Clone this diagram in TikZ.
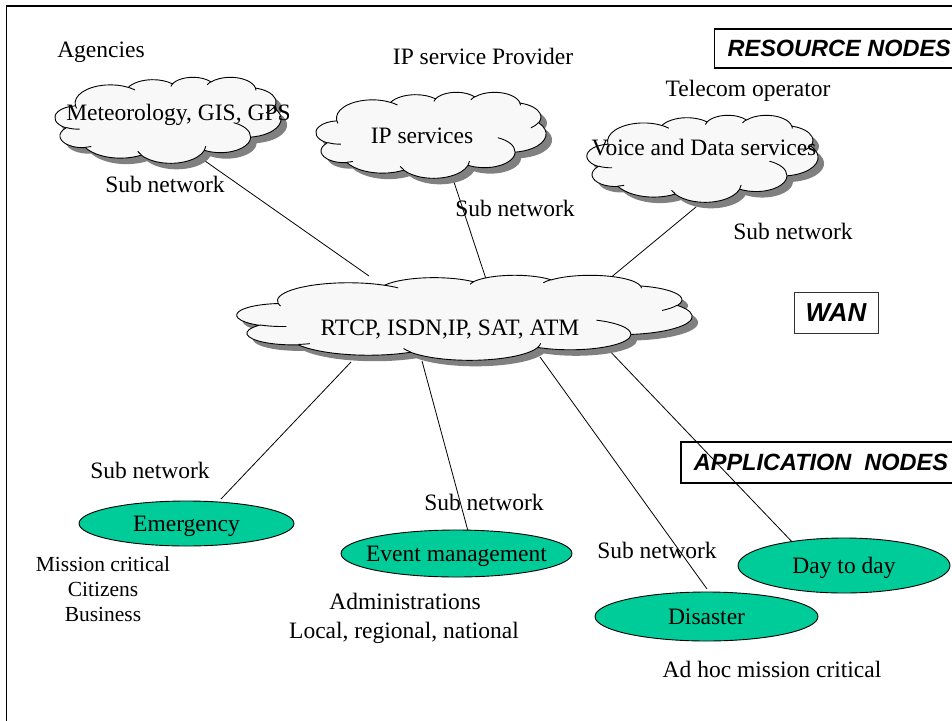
\documentclass[tikz,border=0pt]{standalone}
\usepackage{fontspec}
\setmainfont{Liberation Serif}
\newfontfamily\headfont{Liberation Sans}
\usetikzlibrary{shapes.geometric}

\definecolor{appgreen}{HTML}{00CC99}
\definecolor{cloudfill}{HTML}{F8F8F8}
\definecolor{cloudshade}{HTML}{808080}

% One puff of the cloud: radii and the visual start/sweep angles (degrees)
% are turned into a TikZ arc style with parametric angles.
\newcommand\cldprep[5]{%
  \pgfmathsetmacro\cldtmpa{atan2((#2)*sin(#4),(#3)*cos(#4))}%
  \pgfmathsetmacro\cldtmpb{atan2((#2)*sin((#4)+(#5)),(#3)*cos((#4)+(#5)))}%
  \pgfmathsetmacro\cldtmpc{(\cldtmpb)-(\cldtmpa)+360*((\cldtmpb)<(\cldtmpa))}%
  \edef\cldtmpd{\noexpand\tikzset{#1/.style={x radius=#2, y radius=#3,
      start angle=\cldtmpa, delta angle=\cldtmpc}}}%
  \cldtmpd
}
% outline puffs (units of 1000 in a 43.2 x 43.2 box, y downwards)
\cldprep{puffA}{6.753}{9.190}{-190.48748}{123.78053}
\cldprep{puffB}{5.333}{7.267}{-144.10238}{89.94523}
\cldprep{puffC}{4.365}{5.945}{-145.80792}{99.72302}
\cldprep{puffD}{4.857}{6.595}{-130.98607}{117.24173}
\cldprep{puffE}{5.333}{7.273}{-78.70888}{109.02692}
\cldprep{puffF}{6.775}{9.220}{-46.26725}{130.26900}
\cldprep{puffG}{5.785}{7.867}{0.62502}{114.03333}
\cldprep{puffH}{6.752}{9.215}{22.45160}{115.17255}
\cldprep{puffI}{7.720}{10.543}{66.24263}{75.71102}
\cldprep{puffJ}{4.360}{5.918}{-274.94208}{146.73557}
\cldprep{puffK}{4.345}{5.945}{-246.82850}{152.51885}
% inner curl strokes
\cldprep{curlA}{4.345}{5.945}{86.74200}{26.42950}
\cldprep{curlB}{4.360}{5.918}{73.61047}{11.44747}
\cldprep{curlC}{6.752}{9.215}{137.62415}{14.08110}
\cldprep{curlD}{6.752}{9.215}{6.45327}{15.99835}
\cldprep{curlE}{5.785}{7.867}{-70.29235}{70.91737}
\cldprep{curlF}{5.333}{7.273}{30.31803}{27.75150}
\cldprep{curlG}{4.857}{6.595}{-13.74433}{14.85890}
\cldprep{curlH}{4.857}{6.595}{-149.18145}{18.19537}
\cldprep{curlI}{4.365}{5.945}{-163.49427}{17.68635}
\cldprep{curlJ}{6.753}{9.190}{-66.70695}{12.31935}
\cldprep{curlK}{6.753}{9.190}{157.65435}{11.85817}

\tikzset{
  cloud outline/.style={insert path={(3.9,14.37)
      arc[puffA] arc[puffB] arc[puffC] arc[puffD] arc[puffE] arc[puffF]
      arc[puffG] arc[puffH] arc[puffI] arc[puffJ] arc[puffK] -- cycle}},
  cloud curls/.style={insert path={
      (4.693,26.177) arc[curlA] (6.928,34.899) arc[curlB]
      (16.478,39.09) arc[curlC] (28.827,34.751) arc[curlD]
      (34.129,22.954) arc[curlE] (41.798,15.354) arc[curlF]
      (38.324,5.426) arc[curlG] (29.078,3.952) arc[curlH]
      (22.141,4.72) arc[curlI] (14,5.192) arc[curlJ]
      (4.127,15.789) arc[curlK]}}
}

% cloud with drop shadow: left, top, width, height in px
\newcommand\netcloud[4]{%
  \begin{scope}[shift={(#1+6,#2+6)}, x=1cm, y=1cm,
      xscale=#3/1229.16, yscale=-#4/1229.16]
    \fill[cloudshade, cloud outline];
  \end{scope}
  \begin{scope}[shift={(#1,#2)}, x=1cm, y=1cm,
      xscale=#3/1229.16, yscale=-#4/1229.16]
    \filldraw[fill=cloudfill, draw=black, line width=0.9pt, cloud outline];
    \draw[line width=0.9pt, cloud curls];
  \end{scope}
}

\begin{document}
\begin{tikzpicture}[x=1pt, y=-1pt,
  txt/.style={font=\fontsize{23.5}{28}\selectfont, inner sep=0pt, anchor=base},
  smalltxt/.style={font=\fontsize{21.5}{26}\selectfont, inner sep=0pt, anchor=base},
  inlabel/.style={font=\fontsize{23.5}{28}\selectfont, inner sep=0pt,
    text height=16pt, text depth=0pt},
  headfnt/.style={font=\headfont\bfseries\itshape\fontsize{#1}{#1}\selectfont},
  headbox/.style={draw, headfnt=23.5, inner xsep=13pt, inner ysep=0pt, anchor=west},
  appnode/.style={ellipse, draw=black, line width=0.9pt, fill=appgreen, inner sep=0pt},
  link/.style={draw=black, line width=0.8pt}]

\useasboundingbox (0,0) rectangle (952,720);
\clip (0,0) rectangle (952,720);

% outer frame (its right and bottom sides lie past the page)
\draw[line width=1.8pt] (6.5,730) -- (6.5,6) -- (960,6);

% headings
\node[headbox, line width=1.2pt, minimum height=39pt] (resnodes) at (714,48.5) {RESOURCE NODES};
\node[headbox, line width=1.8pt, minimum height=41pt] (appnodes) at (680,462.5) {APPLICATION~~NODES};
\node[draw=black!80, line width=1pt, headfnt=26, inner sep=0pt,
      minimum width=84pt, minimum height=41pt] (wanbox) at (836,312.5) {WAN};

% connector end points
\coordinate (metS) at (205,161);
\coordinate (wanA) at (369,276);
\coordinate (ipS) at (454,182);
\coordinate (wanB) at (486,279);
\coordinate (vdS) at (696,207);
\coordinate (wanC) at (609,279);
\coordinate (wanD) at (351,362);
\coordinate (emT) at (221,499);
\coordinate (wanE) at (422,361);
\coordinate (evT) at (468,531);
\coordinate (wanF) at (540,357);
\coordinate (diT) at (707,589);
\coordinate (wanG) at (605,346);
\coordinate (ddT) at (796,546);

% sub network links
\draw[link] (metS) -- (wanA);
\draw[link] (ipS) -- (wanB);
\draw[link] (vdS) -- (wanC);
\draw[link] (wanD) -- (emT);
\draw[link] (wanE) -- (evT);
\draw[link] (wanF) -- (diT);
\draw[link] (wanG) -- (ddT);

% resource clouds and the WAN
\netcloud{55}{77}{226}{86}
\netcloud{316}{92}{230}{86}
\netcloud{587}{115}{231}{87}
\netcloud{237}{275}{455}{85}

\node[txt] (metlbl) at (178.5,120) {Meteorology, GIS, GPS};
\node[txt] (iplbl) at (422,143) {IP services};
\node[txt] (vdlbl) at (704,155) {Voice and Data services};
\node[txt] (wanlbl) at (450,335) {RTCP, ISDN,IP, SAT, ATM};

% application nodes
\node[appnode, minimum width=215pt, minimum height=45pt,
      label={[inlabel]center:Emergency}] (emerg) at (186.5,523.5) {};
\node[appnode, minimum width=231pt, minimum height=47pt,
      label={[inlabel]center:Event management}] (event) at (456.5,553.5) {};
\node[appnode, minimum width=223pt, minimum height=49pt,
      label={[inlabel]center:Disaster}] (disaster) at (706.5,616.5) {};
\node[appnode, minimum width=212pt, minimum height=55pt,
      label={[inlabel]center:Day to day}] (daytoday) at (844,565.5) {};

% captions
\node[txt] (agencies) at (101,57) {Agencies};
\node[txt] (ipprov) at (483,64) {IP service Provider};
\node[txt] (telecom) at (748,96) {Telecom operator};
\node[txt] (sub1) at (165,192) {Sub network};
\node[txt] (sub2) at (515,216) {Sub network};
\node[txt] (sub3) at (793,239) {Sub network};
\node[txt] (sub4) at (150,478) {Sub network};
\node[txt] (sub5) at (484,510) {Sub network};
\node[txt] (sub6) at (657,558) {Sub network};
\node[smalltxt] (mission) at (103,571) {Mission critical};
\node[smalltxt] (citizens) at (103,596) {Citizens};
\node[smalltxt] (business) at (103,621) {Business};
\node[txt] (admin) at (405,609) {Administrations};
\node[txt] (levels) at (404,638) {Local, regional, national};
\node[txt] (adhoc) at (772,677) {Ad hoc mission critical};
\end{tikzpicture}
\end{document}
